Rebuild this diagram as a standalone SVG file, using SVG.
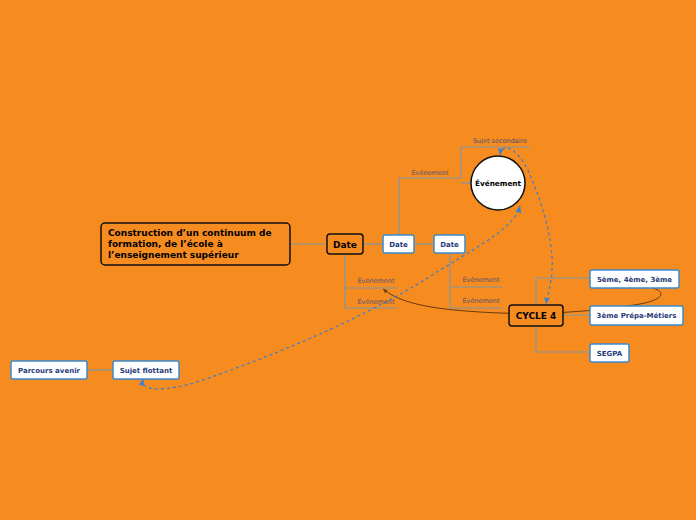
<svg xmlns="http://www.w3.org/2000/svg" width="696" height="520" viewBox="0 0 696 520">
<style>
.root{fill:#F68B1F;stroke:#111;stroke-width:1.5}
.sub{fill:#fff;stroke:#3a8cd0;stroke-width:1.5}
.tb{font-family:"DejaVu Sans",Verdana,sans-serif;font-weight:bold;fill:#000}
.tw{font-family:"DejaVu Sans",Verdana,sans-serif;font-weight:bold;fill:#1f3a78;font-size:7px;text-anchor:middle}
.lbl{font-family:"DejaVu Sans",Verdana,sans-serif;fill:#4d5078;font-size:6.5px;text-anchor:middle}
.br{fill:none;stroke:#7f97a8;stroke-width:1.2}
.rel{fill:none;stroke:#3a7fd0;stroke-width:1.2;stroke-dasharray:3,3}
.relb{fill:none;stroke:#6a3c10;stroke-width:1}
</style>
<defs>
<marker id="ab" viewBox="0 0 10 10" refX="9" refY="5" markerWidth="6" markerHeight="6" orient="auto-start-reverse"><path d="M0,1 L9,5 L0,9 z" fill="#3a7fd0"/></marker>
<marker id="abr" viewBox="0 0 10 10" refX="9" refY="5" markerWidth="5" markerHeight="5" orient="auto-start-reverse"><path d="M0,1 L9,5 L0,9 z" fill="#6a3c10"/></marker>
</defs>
<rect width="696" height="520" fill="#F68B1F"/>
<g id="connectors">
<path class="br" d="M290,244 H327"/>
<path class="br" d="M363,244 H383"/>
<path class="br" d="M414,244 H434"/>
<path class="br" d="M399,235 V178 H461"/>
<path class="br" d="M461,178 V147 H530"/>
<path class="br" d="M461,183 H471"/>
<path class="br" d="M345,254 V308 H398 M345,288 H398"/>
<path class="br" d="M450,253 V308 H502 M450,287 H502"/>
<path class="br" d="M536,305 V278 H590 M536,326 V352 H590 M563,315 H590"/>
<path class="br" d="M87,370 H113"/>
<path class="relb" marker-end="url(#abr)" d="M652,288 C668,292 662,300 640,304 C600,311 540,316 480,312 C430,309 400,303 383,289"/>
<path class="rel" marker-start="url(#ab)" marker-end="url(#ab)" d="M143,379 C140,392 165,392 200,381 C290,350 380,310 440,270 C490,240 515,225 520,206"/>
<path class="rel" marker-start="url(#ab)" marker-end="url(#ab)" d="M500,155 C502,140 520,150 530,175 C545,210 556,250 551,280 C549,292 547,298 546,304"/>
</g>
<g id="root">
<rect class="root" x="101" y="223" width="189" height="42" rx="4"/>
<text class="tb" font-size="9" x="108" y="236">Construction d’un continuum de</text>
<text class="tb" font-size="9" x="108" y="247">formation, de l’école à</text>
<text class="tb" font-size="9" x="108" y="258">l’enseignement supérieur</text>
</g>
<g id="date-main">
<rect class="root" x="327" y="234" width="36" height="20" rx="3"/>
<text class="tb" font-size="9" x="345" y="247.5" text-anchor="middle">Date</text>
</g>
<g id="date-1">
<rect class="sub" x="383" y="235" width="31" height="18" rx="2"/>
<text class="tw" x="398.5" y="246.5">Date</text>
</g>
<g id="date-2">
<rect class="sub" x="434" y="235" width="31" height="18" rx="2"/>
<text class="tw" x="449.5" y="246.5">Date</text>
</g>
<g id="labels">
<text class="lbl" x="430" y="175">Événement</text>
<text class="lbl" x="500" y="143">Sujet secondaire</text>
<text class="lbl" x="376" y="283">Événement</text>
<text class="lbl" x="376" y="304">Événement</text>
<text class="lbl" x="481" y="282">Événement</text>
<text class="lbl" x="481" y="303">Événement</text>
</g>
<g id="evenement">
<circle cx="498" cy="183" r="27" fill="#fff" stroke="#111" stroke-width="1.5"/>
<text class="tb" font-size="7.3" x="498" y="186" text-anchor="middle">Événement</text>
</g>
<g id="cycle4">
<rect class="root" x="509" y="305" width="54" height="21" rx="3"/>
<text class="tb" font-size="9" x="536" y="319" text-anchor="middle">CYCLE 4</text>
</g>
<g id="n5eme">
<rect class="sub" x="590" y="270" width="89" height="18" rx="2"/>
<text class="tw" x="634.5" y="281.5">5ème, 4ème, 3ème</text>
</g>
<g id="prepa">
<rect class="sub" x="590" y="306" width="93" height="19" rx="2"/>
<text class="tw" x="636.5" y="318">3ème Prépa-Métiers</text>
</g>
<g id="segpa">
<rect class="sub" x="590" y="344" width="39" height="18" rx="2"/>
<text class="tw" x="609.5" y="355.5">SEGPA</text>
</g>
<g id="sujet-flottant">
<rect class="sub" x="113" y="361" width="66" height="18" rx="2"/>
<text class="tw" x="146" y="372.5">Sujet flottant</text>
</g>
<g id="parcours">
<rect class="sub" x="11" y="361" width="76" height="18" rx="2"/>
<text class="tw" x="49" y="372.5">Parcours avenir</text>
</g>
</svg>
